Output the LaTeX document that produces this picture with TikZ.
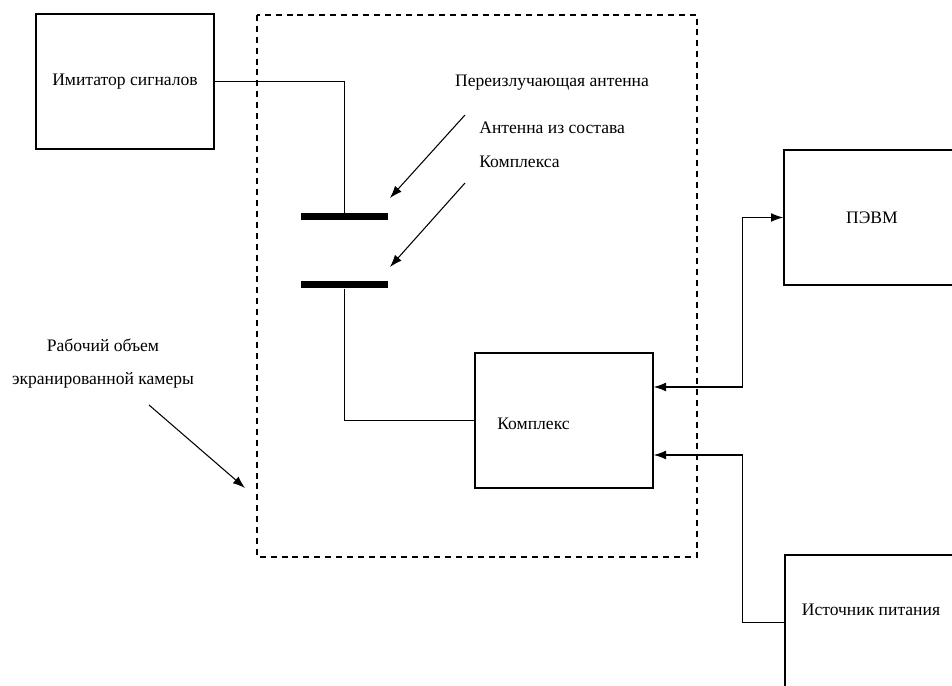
\documentclass[tikz,border=0pt]{standalone}
\usepackage{fontspec}
\setmainfont{Liberation Serif}
\usetikzlibrary{arrows.meta}

\tikzset{
  blok/.style={draw, line width=0.8pt, minimum width=3.56cm, minimum height=2.7cm, inner sep=0pt},
  antbar/.style={fill=black, minimum width=1.74cm, minimum height=0.14cm, inner sep=0pt},
  lbl/.style={font=\fontsize{10}{19}\selectfont, inner sep=0pt},
  svyaz/.style={line width=0.6pt},
  ukaz/.style={line width=0.6pt, -{Latex[length=7pt,width=5pt]}}
}

\begin{document}
\begin{tikzpicture}
			\useasboundingbox (0,0) rectangle (19.04,13.72);
			\clip (0,0) rectangle (19.04,13.72);
			% rabochij objem kamery
			\draw[line width=1.4pt, dash pattern=on 3.4pt off 2.8pt] (5.14,13.42) rectangle (13.94,2.58);
			\node[blok] (imit) at (2.5,12.09) {Имитатор сигналов};
			\node[antbar] (ant1) at (6.89,9.38) {};
			\node[antbar] (ant2) at (6.89,8.02) {};
			\node[blok, minimum height=2.7cm] (kompl) at (11.28,5.31) {};
			\node[lbl, anchor=west] at (9.94,5.25) {Комплекс};
			\node[blok, minimum width=3.52cm] (pevm) at (17.44,9.37) {ПЭВМ};
			\node[blok, minimum width=3.52cm] (istoch) at (17.46,1.27) {};
			\node[lbl] at (17.42,1.52) {Источник питания};
			% podpisi
			\node[lbl] (lperiz) at (11.04,12.06) {Переизлучающая антенна};
			\node[lbl, anchor=north west, align=left] (lant) at (9.58,11.28) {Антенна из состава\\Комплекса};
			\node[lbl, align=center] (lkam) at (2.06,6.45) {Рабочий объем\\экранированной камеры};
			\coordinate (p1) at (9.3,11.42);
			\coordinate (p2) at (9.3,10.06);
			\coordinate (p3) at (2.98,5.62);
			\coordinate (t1) at (7.8,9.76);
			\coordinate (t2) at (7.8,8.38);
			\coordinate (t3) at (4.9,3.96);
			\draw[ukaz] (p1) -- (t1);
			\draw[ukaz] (p2) -- (t2);
			\draw[ukaz] (p3) -- (t3);
			% svyazi
			\draw[svyaz] (imit.east) -| (ant1.north);
			\draw[svyaz] (ant2.south) |- (kompl.west);
			\draw[svyaz, {Latex[length=7pt,width=5pt]}-{Latex[length=7pt,width=5pt]}] ([yshift=0.67cm]kompl.east) -| ([xshift=-0.82cm]pevm.west) -- (pevm.west);
			\draw[svyaz, -{Latex[length=7pt,width=5pt]}] (istoch.west) -- ([xshift=-0.84cm]istoch.west) |- ([yshift=-0.69cm]kompl.east);
		\end{tikzpicture}
\end{document}
